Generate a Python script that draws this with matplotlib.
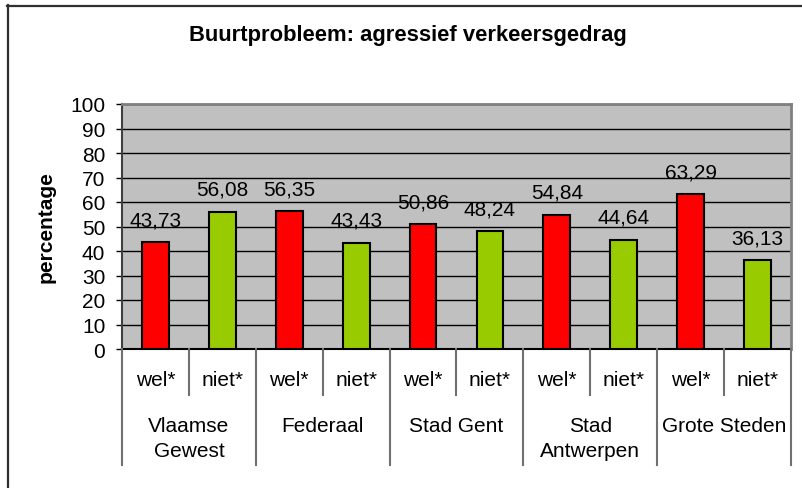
import matplotlib
matplotlib.use("Agg")
import matplotlib.pyplot as plt
from matplotlib.lines import Line2D

plt.rcParams['font.family'] = ['Liberation Sans', 'DejaVu Sans']

title = "Buurtprobleem: agressief verkeersgedrag"
groups = ["Vlaamse\nGewest", "Federaal", "Stad Gent", "Stad\nAntwerpen", "Grote Steden"]
subcats = ["wel*", "niet*"]
values = [43.73, 56.08, 56.35, 43.43, 50.86, 48.24, 54.84, 44.64, 63.29, 36.13]
value_labels = ["43,73", "56,08", "56,35", "43,43", "50,86", "48,24", "54,84", "44,64", "63,29", "36,13"]
yticks = [0, 10, 20, 30, 40, 50, 60, 70, 80, 90, 100]
ylabel = "percentage"

W, H = 802, 489
fig = plt.figure(figsize=(W / 100, H / 100), dpi=100)
fig.patch.set_facecolor('white')

FS = 15

# plot area in pixels
L, R, T, B = 122, 791, 105, 350
ax = fig.add_axes([L / W, 1 - B / H, (R - L) / W, (B - T) / H])
ax.set_facecolor('#C0C0C0')

n = len(values)
xs = list(range(n))
colors = ['#FF0000' if i % 2 == 0 else '#99CC00' for i in range(n)]
ax.bar(xs, values, width=0.40, color=colors, edgecolor='black', linewidth=1.5, zorder=3)

for x, v, lab in zip(xs, values, value_labels):
    ax.annotate(lab, (x, v), xytext=(0, 12), textcoords='offset points',
                ha='center', va='baseline', fontsize=FS, zorder=4)

ax.set_xlim(-0.5, n - 0.5)
ax.set_ylim(0, 100)
ax.set_yticks(yticks)
ax.set_yticklabels([str(t) for t in yticks], fontsize=FS)
ax.tick_params(axis='y', direction='out', length=4, width=1, pad=8, color='black')
ax.set_xticks([])
ax.yaxis.grid(True, color='black', linewidth=1, zorder=1)
ax.set_axisbelow(True)

ax.spines['top'].set_color('#808080')
ax.spines['right'].set_color('#808080')
ax.spines['top'].set_linewidth(2)
ax.spines['right'].set_linewidth(2)
ax.spines['left'].set_color('#404040')
ax.spines['left'].set_linewidth(1.5)
ax.spines['bottom'].set_color('black')
ax.spines['bottom'].set_linewidth(1.5)

ax.set_ylabel(ylabel, fontsize=FS, fontweight='bold')
ax.yaxis.set_label_coords((56 - L) / (R - L), 0.5)

ph = B - T
xtr = ax.get_xaxis_transform()
inner_y = -(396 - B) / ph
outer_y = -(466 - B) / ph
for k in range(n + 1):
    xb = k - 0.5
    yend = outer_y if k % 2 == 0 else inner_y
    ax.plot([xb, xb], [0, yend], transform=xtr, color='#707070', linewidth=1.5,
            clip_on=False, zorder=5)

for i, x in enumerate(xs):
    ax.text(x, -(380 - B) / ph, subcats[i % 2], transform=xtr, ha='center', va='center',
            fontsize=FS)

for g, name in enumerate(groups):
    ax.text(2 * g + 0.5, -(417 - B) / ph, name, transform=xtr, ha='center', va='top',
            fontsize=FS, linespacing=1.38)

fig.text(408 / W, 1 - 36 / H, title, ha='center', va='center', fontsize=15.8,
         fontweight='bold')

# outer chart border (left and top visible)
fig.add_artist(Line2D([7.5 / W, 7.5 / W], [0, 1 - 6 / H], transform=fig.transFigure,
                      color='#303030', linewidth=1.6))
fig.add_artist(Line2D([7 / W, 1], [1 - 6.5 / H, 1 - 6.5 / H], transform=fig.transFigure,
                      color='#303030', linewidth=1.6))

fig.savefig('out.png', dpi=100, facecolor='white')
